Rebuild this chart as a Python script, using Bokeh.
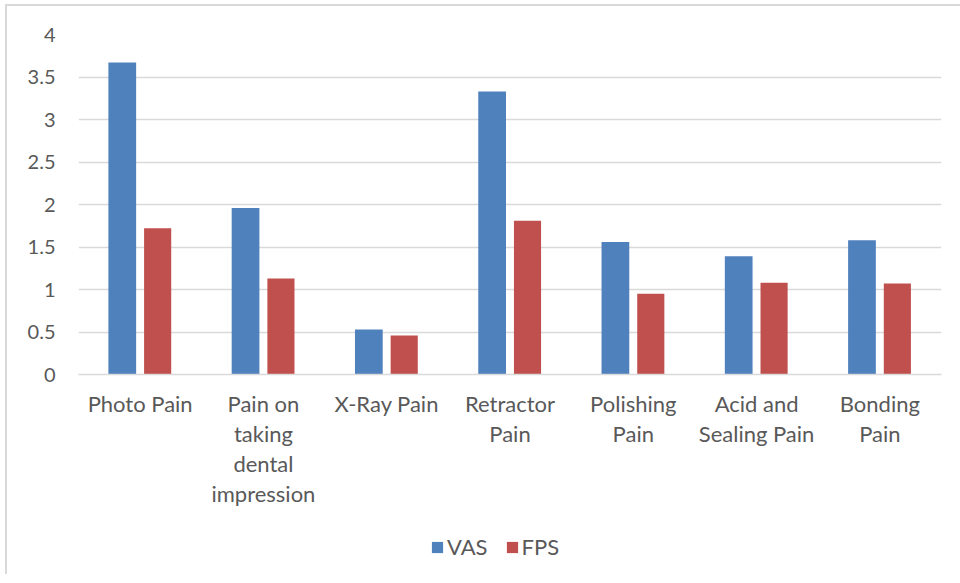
from bokeh.plotting import figure
from bokeh.models import Legend, LegendItem, Range1d, FixedTicker, ColumnDataSource
from bokeh.transform import dodge
from bokeh.layouts import column
from bokeh.embed import file_html
from bokeh.resources import INLINE

categories = ["Photo Pain", "Pain on taking dental impression", "X-Ray Pain",
              "Retractor Pain", "Polishing Pain", "Acid and Sealing Pain", "Bonding Pain"]
tick_labels = ["Photo Pain", "Pain on\ntaking\ndental\nimpression", "X-Ray Pain",
               "Retractor\nPain", "Polishing\nPain", "Acid and\nSealing Pain", "Bonding\nPain"]
series_names = ["VAS", "FPS"]
vas = [3.67, 1.96, 0.53, 3.33, 1.56, 1.39, 1.58]
fps = [1.72, 1.13, 0.46, 1.81, 0.95, 1.08, 1.07]
y_ticks = [0, 0.5, 1, 1.5, 2, 2.5, 3, 3.5, 4]

FONT = "Lato"
TXT = "#595959"
C_VAS = "#4f81bd"
C_FPS = "#c0504d"

idx = list(range(len(categories)))
src = ColumnDataSource(dict(i=idx, cat=categories, vas=vas, fps=fps))

p = figure(x_range=Range1d(-0.5, len(categories) - 0.5), y_range=Range1d(0, 4),
           output_backend="svg", toolbar_location=None,
           frame_width=863, frame_height=340,
           min_border_left=71, min_border_right=10, min_border_top=28, min_border_bottom=160)
p.outline_line_color = None
p.background_fill_color = "white"
p.border_fill_color = "white"

p.vbar(x=dodge("i", -0.145), top="vas", width=0.225, source=src,
       fill_color=C_VAS, line_color=None)
p.vbar(x=dodge("i", 0.142), top="fps", width=0.22, source=src,
       fill_color=C_FPS, line_color=None)

p.xgrid.grid_line_color = None
p.ygrid.grid_line_color = "#d9d9d9"
p.ygrid.grid_line_width = 1.5

p.yaxis.ticker = FixedTicker(ticks=y_ticks)
p.yaxis.axis_line_color = None
p.yaxis.major_tick_line_color = None
p.yaxis.minor_tick_line_color = None
p.yaxis.major_label_standoff = 17
p.yaxis.major_label_text_font = FONT
p.yaxis.major_label_text_font_size = "20px"
p.yaxis.major_label_text_color = TXT

p.xaxis.ticker = FixedTicker(ticks=idx)
p.xaxis.axis_line_color = "#d9d9d9"
p.xaxis.axis_line_width = 1.5
p.xaxis.major_tick_line_color = None
p.xaxis.minor_tick_line_color = None
p.xaxis.major_label_overrides = {i: t for i, t in zip(idx, tick_labels)}
p.xaxis.major_label_standoff = 9
p.xaxis.major_label_text_font = FONT
p.xaxis.major_label_text_font_size = "22px"
p.xaxis.major_label_text_color = TXT
p.xaxis.major_label_text_line_height = 1.12

# separate strip for the legend, below the chart (its bars lie outside its visible y range)
p2 = figure(width=944, height=40, x_range=p.x_range, y_range=Range1d(10, 11),
            output_backend="svg", toolbar_location=None,
            x_axis_location=None, y_axis_location=None, min_border=0)
p2.outline_line_color = None
p2.xgrid.grid_line_color = None
p2.ygrid.grid_line_color = None
lr1 = p2.vbar(x=dodge("i", -0.145), top="vas", width=0.225, source=src,
              fill_color=C_VAS, line_color=None)
lr2 = p2.vbar(x=dodge("i", 0.142), top="fps", width=0.22, source=src,
              fill_color=C_FPS, line_color=None)

legend = Legend(items=[LegendItem(label=series_names[0], renderers=[lr1]),
                       LegendItem(label=series_names[1], renderers=[lr2])],
                orientation="horizontal", location=(352, 14),
                border_line_color=None, background_fill_alpha=0,
                padding=0, margin=0, spacing=17, glyph_width=14, glyph_height=14,
                label_standoff=3, label_text_font=FONT, label_text_font_size="22px",
                label_text_color=TXT)
p2.add_layout(legend, "center")

layout = column(p, p2, width=955, spacing=0,
                styles={"border-left": "2px solid #d9d9d9", "border-top": "2px solid #d9d9d9",
                        "margin-left": "5px", "margin-top": "4px"})

open("out.html", "w").write(file_html(layout, INLINE))
